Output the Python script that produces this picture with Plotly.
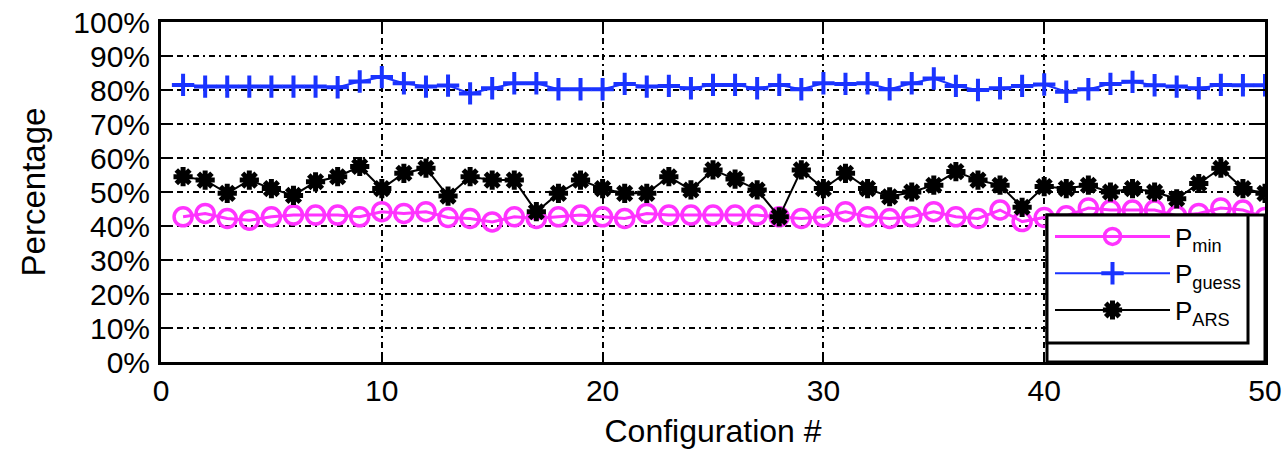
import plotly.graph_objects as go

config = list(range(1, 51))

p_min = [42.7, 43.7, 42.2, 41.7, 42.7, 43.2, 43.2, 43.2, 42.7, 44.2,
         43.7, 44.2, 42.5, 42.2, 41.2, 42.7, 42.2, 42.7, 43.2, 42.7,
         42.2, 43.7, 43.2, 43.2, 43.2, 43.2, 43.2, 42.7, 42.2, 42.7,
         44.2, 42.7, 42.2, 42.7, 44.2, 42.7, 42.2, 44.7, 41.3, 42.5,
         43.0, 45.3, 44.7, 44.7, 44.7, 43.0, 43.7, 45.3, 44.7, 42.5]

p_guess = [81.5, 81.0, 81.0, 81.0, 81.0, 81.0, 81.0, 80.8, 82.5, 83.8,
           82.0, 81.0, 81.3, 79.0, 80.5, 82.0, 82.0, 80.2, 80.2, 80.2,
           81.8, 81.0, 81.2, 80.5, 81.5, 81.5, 80.5, 81.5, 80.2, 82.0,
           81.8, 82.0, 80.2, 82.0, 83.4, 81.2, 80.0, 80.5, 81.2, 81.6,
           79.5, 80.2, 81.8, 82.4, 81.4, 81.0, 80.5, 81.5, 81.4, 81.4]

p_ars = [54.5, 53.5, 49.6, 53.5, 51.0, 49.0, 53.0, 54.5, 57.5, 51.0,
         55.5, 57.0, 48.8, 54.5, 53.5, 53.5, 44.2, 49.6, 53.5, 51.0,
         49.6, 49.6, 54.5, 50.6, 56.5, 53.8, 50.6, 42.7, 56.5, 51.0,
         55.5, 51.0, 48.6, 50.0, 52.0, 56.0, 53.5, 52.0, 45.5, 51.6,
         51.0, 52.0, 50.0, 51.0, 50.0, 48.0, 52.5, 57.0, 51.0, 49.6]

series_names = ["P<sub>min</sub>", "P<sub>guess</sub>", "P<sub>ARS</sub>"]
y_ticks = list(range(0, 101, 10))
y_tick_text = [f"{v}%" for v in y_ticks]
x_ticks = [0, 10, 20, 30, 40, 50]

FONT = "Liberation Sans, Arial, sans-serif"
MAGENTA = "#ff33ff"
BLUE = "#1a33ff"

fig = go.Figure()
fig.add_trace(go.Scatter(
    x=config, y=p_min, name=series_names[0], mode="lines+markers",
    line=dict(color=MAGENTA, width=3),
    marker=dict(symbol="circle-open", size=18, color=MAGENTA,
                line=dict(color=MAGENTA, width=3.5))))
fig.add_trace(go.Scatter(
    x=config, y=p_guess, name=series_names[1], mode="lines+markers",
    line=dict(color=BLUE, width=2),
    marker=dict(symbol="cross-thin-open", size=16, color=BLUE,
                line=dict(color=BLUE, width=4))))
fig.add_trace(go.Scatter(
    x=config, y=p_ars, name=series_names[2], mode="lines+markers",
    line=dict(color="black", width=2),
    marker=dict(symbol="asterisk-open", size=16, color="black",
                line=dict(color="black", width=5))))

L, R, T, B = 161, 22, 22, 88
W, H = 1287, 450
pw, ph = W - L - R, H - T - B

def px_x(px):
    return (px - L) / pw

def px_y(py):
    return (H - B - py) / ph

# legend frame (MATLAB style double frame)
fig.add_shape(type="rect", xref="paper", yref="paper",
              x0=px_x(1047), x1=1.0, y0=0.0, y1=px_y(215),
              fillcolor="white", line=dict(color="black", width=3), layer="above")
fig.add_shape(type="rect", xref="paper", yref="paper",
              x0=px_x(1047), x1=px_x(1248), y0=px_y(343), y1=px_y(215),
              fillcolor="white", line=dict(color="black", width=3), layer="above")

axis_common = dict(
    showline=True, linecolor="black", linewidth=3, mirror="ticks",
    ticks="inside", ticklen=10, tickwidth=2, tickcolor="black",
    showgrid=True, gridcolor="black", gridwidth=1.5,
    griddash="6px,4px,2px,4px", zeroline=False, automargin=False,
    tickfont=dict(family=FONT, size=30, color="black"),
)

fig.update_xaxes(range=[0, 50], tickvals=x_ticks, ticklabelstandoff=0,
                 title=dict(text="Configuration #", standoff=14,
                            font=dict(family=FONT, size=32, color="black")),
                 **axis_common)
fig.update_yaxes(range=[0, 100], tickvals=y_ticks, ticktext=y_tick_text,
                 ticklabelstandoff=2,
                 title=dict(text="Percentage", standoff=18,
                            font=dict(family=FONT, size=33, color="black")),
                 **axis_common)

fig.update_layout(
    width=W, height=H,
    margin=dict(l=L, r=R, t=T, b=B, pad=0, autoexpand=False),
    paper_bgcolor="white", plot_bgcolor="white",
    showlegend=True,
    legend=dict(x=px_x(1050), y=px_y(213), xanchor="left", yanchor="top",
                bgcolor="rgba(0,0,0,0)", borderwidth=0,
                font=dict(family=FONT, size=26, color="black"),
                itemwidth=115, tracegroupgap=0),
)

fig.write_html("out.html")
